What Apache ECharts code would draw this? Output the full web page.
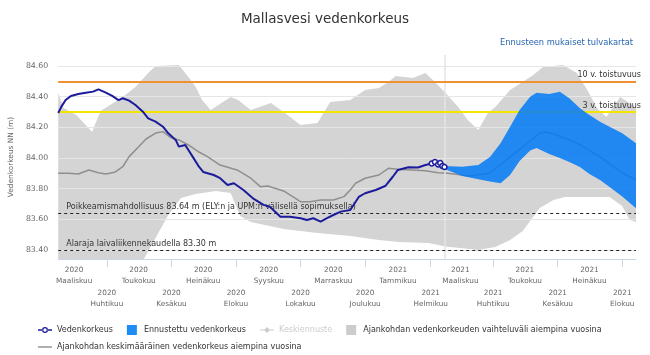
<!DOCTYPE html>
<html><head><meta charset="utf-8">
<script src="https://cdn.jsdelivr.net/npm/echarts@6/dist/echarts.min.js"></script>
<style>html,body{margin:0;padding:0;background:#fff}#c{width:650px;height:355px}</style>
</head><body><div id="c"></div>
<script>
const titleText = 'Mallasvesi vedenkorkeus';
const linkText = 'Ennusteen mukaiset tulvakartat';
const yTitle = 'Vedenkorkeus NN (m)';
const monthNames = ['Tammikuu','Helmikuu','Maaliskuu','Huhtikuu','Toukokuu','Kesäkuu','Heinäkuu','Elokuu','Syyskuu','Lokakuu','Marraskuu','Joulukuu'];
const yTicks = [83.4, 83.6, 83.8, 84.0, 84.2, 84.4, 84.6];
const xMin = '2020-02-15', xMax = '2021-08-14', todayDate = '2021-02-14';
const xRow1Months = ['2020-03-01','2020-05-01','2020-07-01','2020-09-01','2020-11-01','2021-01-01','2021-03-01','2021-05-01','2021-07-01'];
const xRow2Months = ['2020-04-01','2020-06-01','2020-08-01','2020-10-01','2020-12-01','2021-02-01','2021-04-01','2021-06-01','2021-08-01'];
const xTickMonths = ['2020-04-01','2020-06-01','2020-08-01','2020-10-01','2020-12-01','2021-02-01','2021-04-01','2021-06-01','2021-08-01'];

const refLevels = [84.50, 84.30, 83.64, 83.40];
const refTexts = ['10 v. toistuvuus', '3 v. toistuvuus', 'Poikkeamismahdollisuus 83.64 m (ELY:n ja UPM:n välisellä sopimuksella)', 'Alaraja laivaliikennekaudella 83.30 m'];

const obsName = 'Vedenkorkeus';
const fcName = 'Ennustettu vedenkorkeus';
const meanFcName = 'Keskiennuste';
const rangeName = 'Ajankohdan vedenkorkeuden vaihteluväli aiempina vuosina';
const avgName = 'Ajankohdan keskimääräinen vedenkorkeus aiempina vuosina';

const obsDates = ['2020-02-15','2020-02-18','2020-02-22','2020-02-27','2020-03-05','2020-03-12','2020-03-19','2020-03-24','2020-03-31','2020-04-06','2020-04-12','2020-04-16','2020-04-22','2020-04-28','2020-05-05','2020-05-10','2020-05-17','2020-05-24','2020-05-29','2020-06-05','2020-06-08','2020-06-14','2020-06-21','2020-06-27','2020-07-01','2020-07-11','2020-07-17','2020-07-24','2020-07-30','2020-08-08','2020-08-17','2020-08-27','2020-09-02','2020-09-12','2020-09-21','2020-10-01','2020-10-07','2020-10-13','2020-10-20','2020-10-26','2020-11-01','2020-11-08','2020-11-17','2020-11-25','2020-12-01','2020-12-11','2020-12-20','2020-12-27','2021-01-01','2021-01-11','2021-01-20','2021-01-27','2021-02-02'];
const obsValues = [84.294,84.335,84.378,84.405,84.418,84.426,84.433,84.448,84.426,84.405,84.378,84.390,84.374,84.346,84.302,84.259,84.237,84.204,84.161,84.118,84.074,84.085,84.009,83.943,83.909,83.889,83.868,83.824,83.835,83.791,83.737,83.694,83.682,83.617,83.617,83.607,83.596,83.607,83.585,83.607,83.628,83.650,83.661,83.746,83.770,83.791,83.817,83.876,83.922,83.939,83.938,83.954,83.964];
const lastDates = ['2021-02-02','2021-02-05','2021-02-08','2021-02-10','2021-02-12','2021-02-14'];
const lastValues = [83.964,83.974,83.958,83.967,83.948,83.941];

const avgDates = ['2020-02-15','2020-02-25','2020-03-05','2020-03-15','2020-03-24','2020-03-31','2020-04-09','2020-04-16','2020-04-22','2020-05-01','2020-05-08','2020-05-17','2020-05-24','2020-05-31','2020-06-08','2020-06-17','2020-06-27','2020-07-05','2020-07-17','2020-08-02','2020-08-15','2020-08-24','2020-08-31','2020-09-15','2020-10-01','2020-10-10','2020-10-20','2020-11-01','2020-11-11','2020-11-17','2020-11-22','2020-12-01','2020-12-14','2020-12-23','2021-01-01','2021-01-14','2021-01-27','2021-02-08','2021-02-17','2021-03-10','2021-03-29','2021-04-17','2021-04-29','2021-05-15','2021-05-21','2021-05-31','2021-06-19','2021-07-11','2021-08-01','2021-08-14'];
const avgValues = [83.900,83.900,83.896,83.922,83.904,83.896,83.909,83.943,84.009,84.074,84.124,84.163,84.172,84.134,84.118,84.085,84.039,84.009,83.954,83.922,83.868,83.813,83.817,83.785,83.715,83.715,83.726,83.726,83.748,83.791,83.835,83.868,83.889,83.933,83.926,83.922,83.917,83.904,83.900,83.883,83.902,84.007,84.072,84.163,84.170,84.150,84.098,84.007,83.902,83.857];

const upDates = ['2020-02-15','2020-02-20','2020-03-03','2020-03-12','2020-03-18','2020-03-26','2020-04-16','2020-04-28','2020-05-10','2020-05-17','2020-06-08','2020-06-17','2020-06-24','2020-06-30','2020-07-08','2020-07-27','2020-08-03','2020-08-15','2020-09-03','2020-09-15','2020-10-01','2020-10-17','2020-10-29','2020-11-17','2020-12-01','2020-12-14','2020-12-23','2020-12-30','2021-01-15','2021-01-27','2021-02-05','2021-02-15','2021-02-27','2021-03-08','2021-03-18','2021-03-27','2021-04-03','2021-04-17','2021-05-09','2021-05-18','2021-06-06','2021-06-19','2021-06-29','2021-07-08','2021-07-17','2021-07-30','2021-08-08','2021-08-14'];
const upValues = [84.424,84.326,84.281,84.215,84.170,84.307,84.398,84.463,84.555,84.600,84.607,84.529,84.463,84.378,84.313,84.398,84.378,84.313,84.359,84.300,84.215,84.228,84.365,84.378,84.444,84.457,84.496,84.535,84.522,84.555,84.496,84.424,84.333,84.248,84.183,84.294,84.333,84.444,84.542,84.594,84.607,84.555,84.444,84.326,84.268,84.398,84.359,84.326];

const loDates = ['2020-02-15','2020-05-05','2020-05-17','2020-05-29','2020-06-10','2020-06-24','2020-07-13','2020-07-27','2020-08-05','2020-08-15','2020-09-15','2020-10-17','2020-11-17','2020-12-14','2021-01-02','2021-01-30','2021-02-15','2021-03-18','2021-04-03','2021-04-17','2021-04-29','2021-05-15','2021-05-28','2021-06-08','2021-07-01','2021-07-20','2021-08-01','2021-08-08','2021-08-14'];
const loValues = [83.32,83.33,83.478,83.628,83.739,83.765,83.785,83.772,83.622,83.583,83.537,83.511,83.491,83.465,83.452,83.446,83.422,83.40,83.42,83.465,83.524,83.674,83.726,83.746,83.746,83.746,83.687,83.596,83.583];

const fcDates = ['2021-02-14','2021-03-03','2021-03-18','2021-03-29','2021-04-08','2021-04-17','2021-04-26','2021-05-06','2021-05-12','2021-05-24','2021-06-03','2021-06-12','2021-06-22','2021-07-01','2021-07-11','2021-07-20','2021-08-01','2021-08-14'];
const fcUpper = [83.948,83.943,83.954,84.007,84.096,84.204,84.313,84.400,84.426,84.418,84.433,84.390,84.324,84.281,84.237,84.204,84.161,84.096];
const fcLower = [83.928,83.883,83.861,83.846,83.835,83.889,83.981,84.049,84.065,84.026,84.000,83.974,83.941,83.896,83.857,83.811,83.748,83.672];

const ts = s => { const p = s.split('-').map(Number); return new Date(p[0], p[1] - 1, p[2]).getTime(); };
const zip = (d, v) => d.map((x, i) => [ts(x), v[i]]);
const NAVY = '#1b1b9c';
const FONT = 'DejaVu Sans';
const SQ = 'path://M0,0H10V10H0Z';
const LINE_ICON = 'path://M0,4.3H14V5.7H0Z';
const OBS_ICON = 'path://M0,4.3H4.3V5.7H0Z M9.7,4.3H14V5.7H9.7Z M4,5A3,3 0 1 0 10,5A3,3 0 1 0 4,5Z M5.3,5A1.7,1.7 0 1 1 8.7,5A1.7,1.7 0 1 1 5.3,5Z';
const DIA_ICON = 'path://M0,4.4H14V5.6H0Z M7,2L10,5L7,8L4,5Z';

function xFmt(value) {
  const d = new Date(value);
  return d.getFullYear() + '\n' + monthNames[d.getMonth()];
}

const refColors = ['#f28f33', '#f5e400', '#222222', '#222222'];
const refMarkData = refLevels.map((lv, i) => {
  const right = i < 2;
  return {
    yAxis: lv,
    lineStyle: { color: refColors[i], width: right ? 2 : 1, type: right ? 'solid' : [3, 3] },
    label: {
      show: true, formatter: refTexts[i], color: '#333', fontSize: 8, fontFamily: FONT,
      position: right ? 'insideEndTop' : 'insideStartTop',
      distance: right ? [-5, 2] : [8, 2]
    }
  };
});

const xLabelBase = { formatter: xFmt, fontSize: 7.3, color: '#666', lineHeight: 10.5, hideOverlap: false,
  showMinLabel: true, showMaxLabel: true, fontFamily: FONT };

const chart = echarts.init(document.getElementById('c'), null, { renderer: 'canvas' });
chart.setOption({
  animation: false,
  textStyle: { fontFamily: FONT },
  title: [
    { text: titleText, left: 'center', top: 7, textStyle: { fontSize: 13.5, fontWeight: 'normal', color: '#333', fontFamily: FONT } },
    { text: linkText, right: 12, top: 34, textStyle: { fontSize: 8.3, fontWeight: 'normal', color: '#2766b0', fontFamily: FONT } }
  ],
  grid: { left: 57, right: 14, top: 55, bottom: 96 },
  legend: [
    { left: 33, top: 320, itemWidth: 14, itemHeight: 10, itemGap: 14, textStyle: { fontSize: 8, color: '#333', fontFamily: FONT }, inactiveColor: '#cccccc',
      selected: { [meanFcName]: false },
      data: [{ name: obsName, icon: OBS_ICON }, { name: fcName, icon: SQ }, { name: meanFcName, icon: DIA_ICON }, { name: rangeName, icon: SQ }] },
    { left: 33, top: 338, itemWidth: 14, itemHeight: 10, textStyle: { fontSize: 8, color: '#333', fontFamily: FONT },
      data: [{ name: avgName, icon: LINE_ICON }] }
  ],
  xAxis: [
    { type: 'value', min: ts(xMin), max: ts(xMax), position: 'bottom',
      axisLine: { lineStyle: { color: '#ccd6eb' } },
      axisTick: { customValues: xTickMonths.map(ts), length: 8, lineStyle: { color: '#ccd6eb' } },
      axisLabel: Object.assign({ customValues: xRow1Months.map(ts), margin: 6 }, xLabelBase),
      splitLine: { show: false } },
    { type: 'value', min: ts(xMin), max: ts(xMax), position: 'bottom', offset: 0,
      axisLine: { show: false },
      axisTick: { show: false },
      axisLabel: Object.assign({ customValues: xRow2Months.map(ts), margin: 29 }, xLabelBase),
      splitLine: { show: false } }
  ],
  yAxis: {
    type: 'value', min: 83.341, max: 84.672, z: 3,
    axisLabel: { customValues: yTicks, formatter: v => v.toFixed(2), fontSize: 7.8, color: '#666', margin: 10, fontFamily: FONT },
    axisTick: { show: false, customValues: yTicks },
    axisLine: { show: false },
    splitLine: { show: true, lineStyle: { color: '#e6e6e6', width: 1 } },
    name: yTitle, nameLocation: 'middle', nameRotate: 90, nameGap: 43,
    nameTextStyle: { fontSize: 7.4, color: '#666', fontFamily: FONT }
  },
  series: [
    { name: rangeName, type: 'line', data: zip(upDates, upValues), symbol: 'none', silent: true, z: 1,
      color: '#cccccc', lineStyle: { width: 0 }, areaStyle: { color: '#d4d4d4', origin: 'start', opacity: 1 } },
    { name: '_rangeLower', type: 'line', data: zip(loDates, loValues), symbol: 'none', silent: true, z: 2,
      color: '#ffffff', lineStyle: { width: 0 }, areaStyle: { color: '#ffffff', origin: 'start', opacity: 1 },
      markLine: { silent: true, symbol: 'none', label: { show: false },
        data: [{ xAxis: ts(todayDate), lineStyle: { color: '#e4e4e4', width: 1.5, type: 'solid' } }] } },
    { name: avgName, type: 'line', data: zip(avgDates, avgValues), symbol: 'none', z: 4,
      color: '#8f8f8f', lineStyle: { color: '#8f8f8f', width: 1.5 },
      markLine: { silent: true, symbol: 'none', data: refMarkData } },
    { name: fcName, type: 'custom', z: 5, silent: true, color: '#1e8cf5',
      data: fcDates.map((d, i) => [ts(d), fcLower[i], fcUpper[i]]),
      encode: { x: 0, y: [1, 2] },
      renderItem: function (params, api) {
        if (params.dataIndex !== 0) return null;
        const up = fcDates.map((d, i) => api.coord([ts(d), fcUpper[i]]));
        const lo = fcDates.map((d, i) => api.coord([ts(d), fcLower[i]])).reverse();
        return { type: 'polygon', shape: { points: up.concat(lo) }, style: { fill: 'rgba(0,122,245,0.85)' } };
      } },
    { name: obsName, type: 'line', data: zip(obsDates, obsValues), symbol: 'emptyCircle', showSymbol: false, symbolSize: 5, z: 6,
      color: NAVY, lineStyle: { color: NAVY, width: 2 } },
    { name: obsName, type: 'line', data: zip(lastDates, lastValues), symbol: 'circle', showSymbol: true, symbolSize: 5, z: 6,
      itemStyle: { color: '#ffffff', borderColor: NAVY, borderWidth: 1.5 }, lineStyle: { color: NAVY, width: 2 } },
    { name: meanFcName, type: 'line', data: [], symbol: 'diamond', color: '#999999', lineStyle: { color: '#999999' } }
  ]
});
</script>
</body></html>
